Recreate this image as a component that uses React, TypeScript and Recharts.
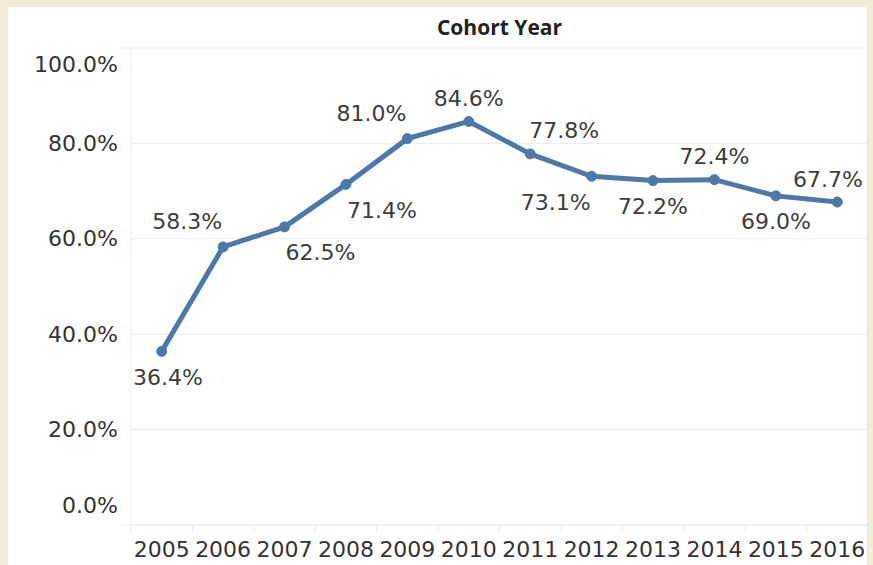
import { LineChart, Line, XAxis, YAxis, CartesianGrid, LabelList } from 'recharts'

const years = ['2005', '2006', '2007', '2008', '2009', '2010', '2011', '2012', '2013', '2014', '2015', '2016']
const rates = [36.4, 58.3, 62.5, 71.4, 81.0, 84.6, 77.8, 73.1, 72.2, 72.4, 69.0, 67.7]
const yTicks = [0, 20, 40, 60, 80, 100]
// where Tableau put each mark label relative to its point
const labelSpots = ['down', 'upLeft', 'downRight', 'downRight', 'upLeft', 'up', 'upRight', 'downLeft', 'down', 'up', 'down', 'up']

const data = years.map((year, i) => ({ year, rate: rates[i] }))

const W = 873
const H = 565
const PLOT_LEFT = 131
const PLOT_RIGHT = 868
const PLOT_TOP = 48
const PLOT_BOTTOM = 525
const BAND = (PLOT_RIGHT - PLOT_LEFT) / years.length
const FONT = '"DejaVu Sans", Verdana, sans-serif'
const LINE_BLUE = '#4e79a7'
const GRID = '#ebebeb'

const spotOffsets: Record<string, [number, number]> = {
  up: [0, -23],
  down: [0, 26],
  upLeft: [-36, -25],
  upRight: [34, -23],
  downLeft: [-36, 26],
  downRight: [36, 26],
}

function XTick(props: any) {
  const { x, index } = props
  const left = x - BAND / 2
  return (
    <g>
      <line x1={left} x2={left} y1={PLOT_BOTTOM} y2={PLOT_BOTTOM + 8} stroke={GRID} />
      {index === years.length - 1 && (
        <line x1={left + BAND} x2={left + BAND} y1={PLOT_BOTTOM} y2={PLOT_BOTTOM + 8} stroke={GRID} />
      )}
      <text x={x} y={549} textAnchor="middle" dominantBaseline="central" fontSize={22} fontFamily={FONT} fill="#333">
        {props.payload.value}
      </text>
    </g>
  )
}

function YTick(props: any) {
  const { y, payload } = props
  const v = payload.value
  let ty = y
  if (v === 100) ty = y + 16
  if (v === 0) ty = y - 20
  return (
    <g>
      {(v === 100 || v === 0) && <line x1={121} x2={PLOT_LEFT} y1={y} y2={y} stroke={GRID} />}
      <text x={118} y={ty} textAnchor="end" dominantBaseline="central" fontSize={22} fontFamily={FONT} fill="#333">
        {`${v.toFixed(1)}%`}
      </text>
    </g>
  )
}

function renderLabel(props: any) {
  const { x, y, value, index } = props
  const [dx, dy] = spotOffsets[labelSpots[index]]
  const half = 36
  const cx = Math.min(Math.max(x + dx, PLOT_LEFT + 1 + half), PLOT_RIGHT - 4 - half)
  return (
    <text x={cx} y={y + dy} textAnchor="middle" dominantBaseline="central" fontSize={22} fontFamily={FONT} fill="#3c3c3c">
      {`${Number(value).toFixed(1)}%`}
    </text>
  )
}

export default function App() {
  return (
    <div style={{ position: 'fixed', left: 0, top: 0, width: W, height: H, background: '#f2ebd5', overflow: 'hidden' }}>
      <div
        style={{
          position: 'absolute',
          left: 8,
          top: 7,
          width: PLOT_RIGHT - 8,
          height: H,
          background: '#fff',
          borderRight: '1px solid #e2e2e2',
          boxSizing: 'border-box',
        }}
      />
      <div
        style={{
          position: 'absolute',
          left: PLOT_LEFT,
          width: PLOT_RIGHT - PLOT_LEFT,
          top: 12,
          textAlign: 'center',
          fontFamily: '"Open Sans", sans-serif',
          fontWeight: 700,
          fontSize: 21,
          lineHeight: '30px',
          color: '#222',
        }}
      >
        Cohort Year
      </div>
      <LineChart
        width={W}
        height={H}
        data={data}
        margin={{ top: PLOT_TOP, right: W - PLOT_RIGHT, bottom: 0, left: 0 }}
        style={{ position: 'absolute', left: 0, top: 0 }}
      >
        <CartesianGrid vertical={false} stroke={GRID} />
        <XAxis
          dataKey="year"
          scale="band"
          height={H - PLOT_BOTTOM}
          interval={0}
          axisLine={{ stroke: GRID }}
          tickLine={false}
          tick={(p: any) => <XTick {...p} />}
        />
        <YAxis
          width={PLOT_LEFT}
          domain={[0, 100]}
          ticks={yTicks}
          axisLine={{ stroke: GRID }}
          tickLine={false}
          tick={(p: any) => <YTick {...p} />}
        />
        <Line
          type="linear"
          dataKey="rate"
          stroke={LINE_BLUE}
          strokeWidth={5}
          dot={{ r: 5, fill: LINE_BLUE, stroke: LINE_BLUE, strokeWidth: 1 }}
          activeDot={false}
          isAnimationActive={false}
        >
          <LabelList dataKey="rate" content={renderLabel} />
        </Line>
      </LineChart>
    </div>
  )
}
